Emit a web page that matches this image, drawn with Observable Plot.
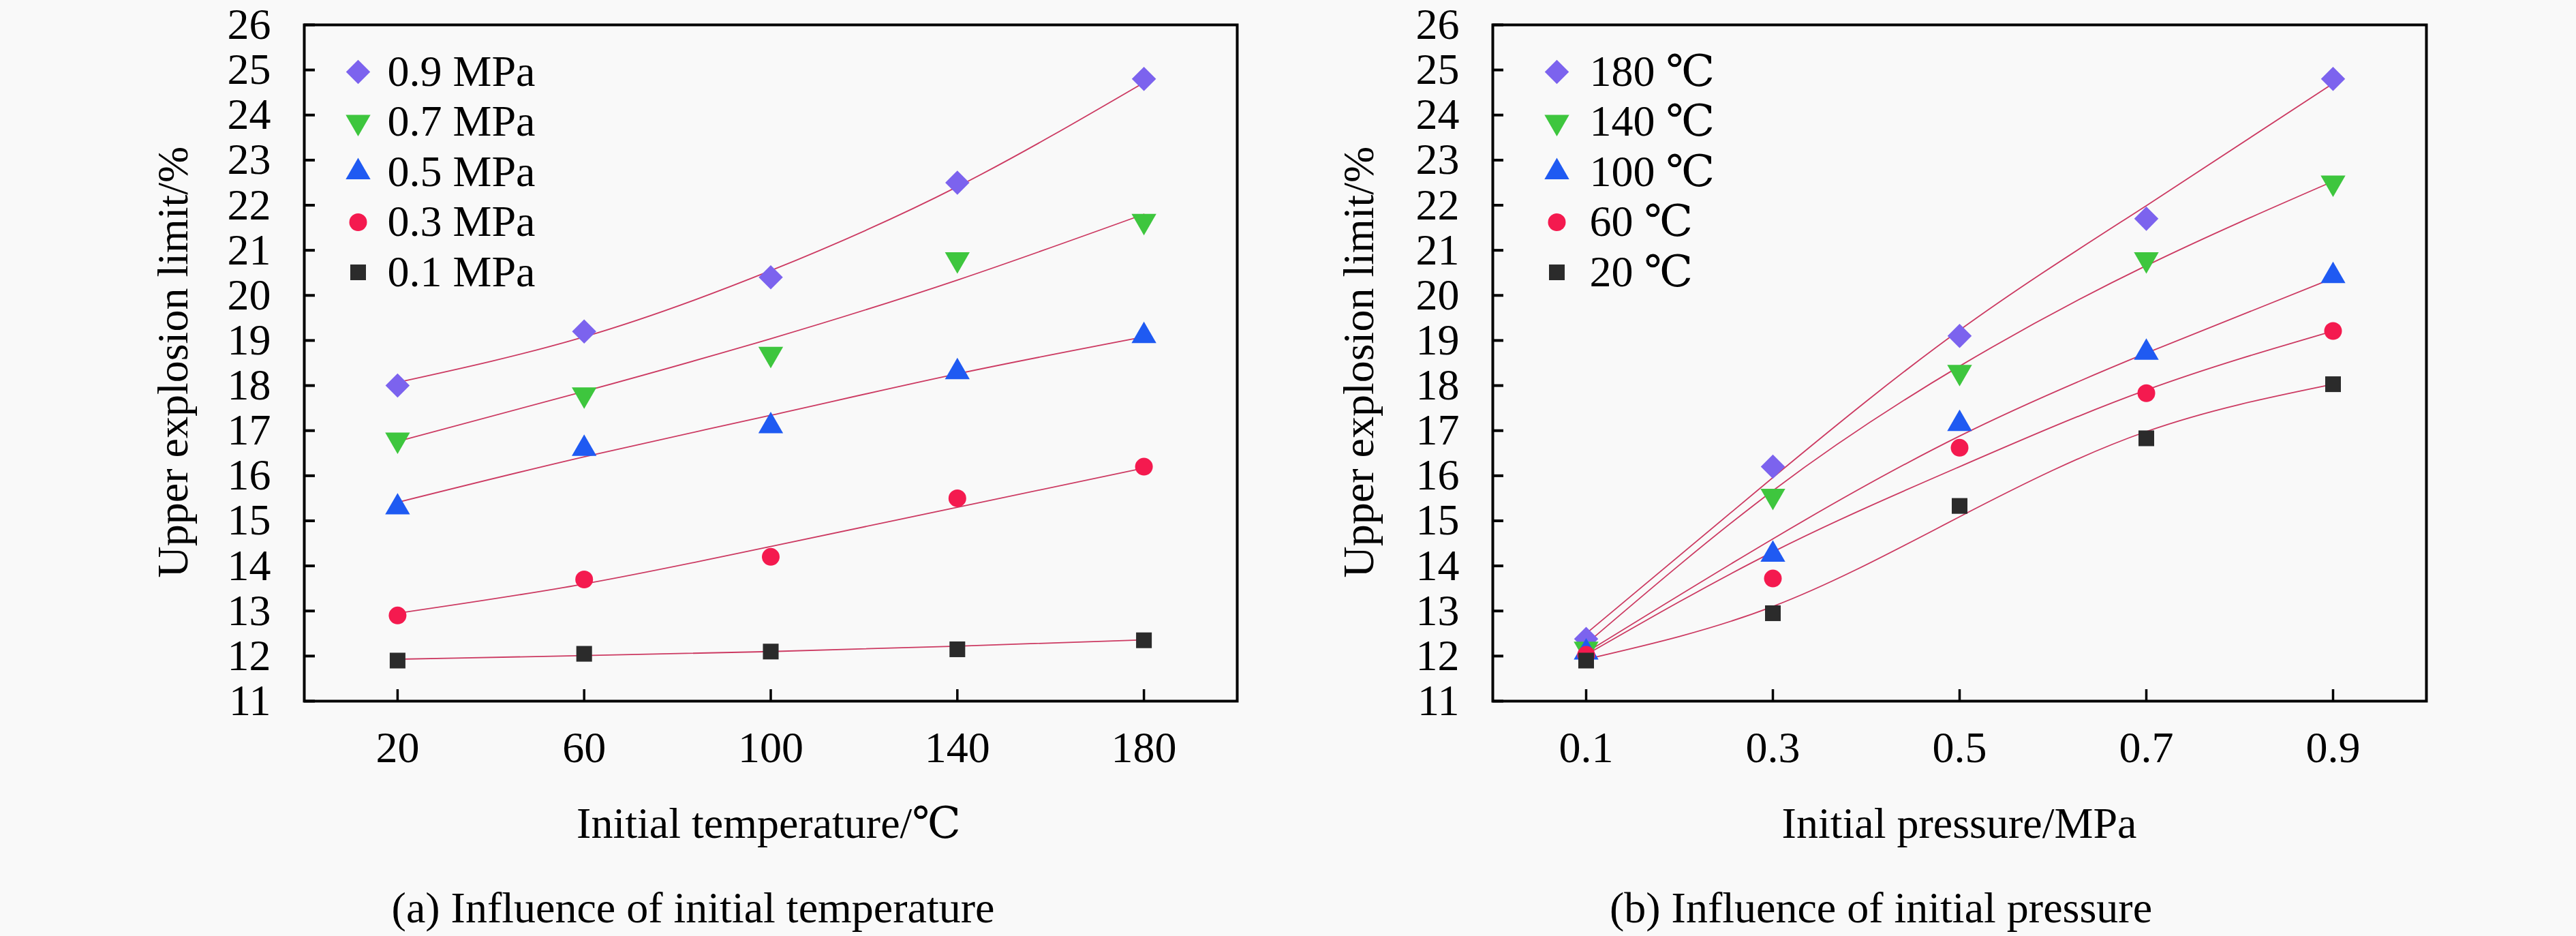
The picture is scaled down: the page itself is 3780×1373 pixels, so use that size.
<!DOCTYPE html>
<html>
<head>
<meta charset="utf-8">
<script src="https://cdn.jsdelivr.net/npm/d3@7"></script>
<script src="https://cdn.jsdelivr.net/npm/@observablehq/plot@0.6"></script>
<style>
html, body { margin: 0; padding: 0; background: #f9f9f9; }
#fig { position: relative; width: 3780px; height: 1373px; background: #f9f9f9; overflow: hidden;
  font-family: "Liberation Serif", "DejaVu Serif", "Noto Serif CJK SC", serif; color: #000; }
.panel { position: absolute; top: 0; }
.lbl { position: absolute; font-size: 64px; line-height: 1; white-space: nowrap; }
</style>
</head>
<body>
<div id="fig"></div>
<script>
// ---------- data ----------
const temperatures = [20, 60, 100, 140, 180];          // °C (panel a x)
const pressures = [0.1, 0.3, 0.5, 0.7, 0.9];            // MPa (panel b x)
const yTicks = [11, 12, 13, 14, 15, 16, 17, 18, 19, 20, 21, 22, 23, 24, 25, 26];

const pressureNames = ["0.9 MPa", "0.7 MPa", "0.5 MPa", "0.3 MPa", "0.1 MPa"];
const temperatureNames = ["180 ℃", "140 ℃", "100 ℃", "60 ℃", "20 ℃"];

// panel (a): measured upper explosion limit vs temperature
const uelA_09 = [18.0, 19.2, 20.4, 22.5, 24.8];
const uelA_07 = [16.8, 17.8, 18.7, 20.8, 21.65];
const uelA_05 = [15.3, 16.6, 17.1, 18.3, 19.1];
const uelA_03 = [12.9, 13.7, 14.2, 15.5, 16.2];
const uelA_01 = [11.9, 12.05, 12.1, 12.15, 12.35];
// panel (a): fitted curves read at the same temperatures
const fitA_09 = [18.07, 19.08, 20.55, 22.41, 24.72];
const fitA_07 = [16.76, 17.87, 19.04, 20.34, 21.8];
const fitA_05 = [15.41, 16.42, 17.34, 18.26, 19.08];
const fitA_03 = [12.95, 13.6, 14.43, 15.3, 16.17];
const fitA_01 = [11.93, 12.01, 12.1, 12.22, 12.36];

// panel (b): measured upper explosion limit vs pressure
const uelB_180 = [12.38, 16.2, 19.1, 21.7, 24.8];
const uelB_140 = [12.16, 15.55, 18.3, 20.8, 22.5];
const uelB_100 = [12.08, 14.25, 17.15, 18.73, 20.43];
const uelB_60 = [12.03, 13.72, 16.62, 17.83, 19.21];
const uelB_20 = [11.9, 12.95, 15.33, 16.83, 18.03];
// panel (b): fitted curves read at the same pressures
const fitB_180 = [12.5, 15.96, 19.23, 21.99, 24.7];
const fitB_140 = [12.27, 15.67, 18.43, 20.66, 22.53];
const fitB_100 = [12.08, 14.6, 16.88, 18.72, 20.38];
const fitB_60 = [12.03, 14.31, 16.2, 17.9, 19.21];
const fitB_20 = [11.93, 13.1, 15.09, 16.98, 18.03];

// ---------- styles ----------
const FONT = '"Liberation Serif", "DejaVu Serif", "Noto Serif CJK SC", serif';
const lineColor = "#cc3a62";
const symbolDown = {
  draw(ctx, size) {
    const s3 = Math.sqrt(3);
    const y = -Math.sqrt(size / (3 * s3));
    ctx.moveTo(0, -2 * y);
    ctx.lineTo(s3 * y, y);
    ctx.lineTo(-s3 * y, y);
    ctx.closePath();
  }
};
const seriesSymbols = ["diamond2", symbolDown, "triangle", "circle", "square"];
const seriesColors = ["#7c63ee", "#3ec63e", "#1f5af2", "#f41a4f", "#2b2b2b"];
const seriesR = [16, 13.5, 13.5, 13, 13];

function panel({xs, names, measured, fitted, xDomain, xTickFormat, marginLeft, marginRight, legendDx, legendTextDx}) {
  const marks = [];
  fitted.forEach((vals) => {
    const rows = xs.map((x, j) => ({x, y: vals[j]}));
    marks.push(Plot.line(rows, {x: "x", y: "y", curve: "natural", stroke: lineColor, strokeWidth: 1.8}));
  });
  measured.forEach((vals, i) => {
    const rows = xs.map((x, j) => ({x, y: vals[j]}));
    marks.push(Plot.dot(rows, {x: "x", y: "y", symbol: seriesSymbols[i], fill: seriesColors[i], r: seriesR[i], stroke: "none"}));
  });
  names.forEach((name, i) => {
    const dy = 69 + 73.5 * i;
    marks.push(Plot.dot([name], {x: null, y: null, frameAnchor: "top-left", dx: legendDx, dy,
      symbol: seriesSymbols[i], fill: seriesColors[i], r: seriesR[i], stroke: "none"}));
    marks.push(Plot.text([name], {x: null, y: null, frameAnchor: "top-left", dx: legendTextDx, dy,
      text: d => d, textAnchor: "start", lineAnchor: "middle", fontSize: 64, fill: "#000"}));
  });
  marks.push(Plot.axisY(yTicks, {anchor: "left", tickSize: 0, tickPadding: 49, fontSize: 64, tickFormat: d => String(d), label: null}));
  marks.push(Plot.axisY(yTicks, {anchor: "left", tickSize: 16, dx: 16, text: null, strokeWidth: 4, label: null}));
  marks.push(Plot.axisX(xs, {anchor: "bottom", tickSize: 17, dy: -17, text: null, strokeWidth: 3.5, label: null}));
  marks.push(Plot.axisX(xs, {anchor: "bottom", tickSize: 0, tickPadding: 44, fontSize: 64, tickFormat: xTickFormat, label: null}));
  marks.push(Plot.frame({stroke: "#000", strokeWidth: 4}));
  return Plot.plot({
    width: 1890, height: 1373,
    marginLeft, marginRight, marginTop: 36, marginBottom: 345,
    x: {domain: xDomain},
    y: {domain: [11, 26]},
    style: {fontFamily: FONT, fontSize: "64px", background: "transparent", color: "#000", overflow: "visible"},
    marks
  });
}

const fig = document.getElementById("fig");

const a = panel({
  xs: temperatures, names: pressureNames,
  measured: [uelA_09, uelA_07, uelA_05, uelA_03, uelA_01],
  fitted: [fitA_09, fitA_07, fitA_05, fitA_03, fitA_01],
  xDomain: [0, 200], xTickFormat: d => String(d),
  marginLeft: 446, marginRight: 75, legendDx: 79, legendTextDx: 122
});
a.classList.add("panel"); a.style.left = "0px";
fig.appendChild(a);

const b = panel({
  xs: pressures, names: temperatureNames,
  measured: [uelB_180, uelB_140, uelB_100, uelB_60, uelB_20],
  fitted: [fitB_180, fitB_140, fitB_100, fitB_60, fitB_20],
  xDomain: [0, 1], xTickFormat: d3.format(".1f"),
  marginLeft: 300, marginRight: 220, legendDx: 94, legendTextDx: 142
});
b.classList.add("panel"); b.style.left = "1890px";
fig.appendChild(b);

function label(text, left, top, transform) {
  const d = document.createElement("div");
  d.className = "lbl";
  d.textContent = text;
  d.style.left = left + "px";
  d.style.top = top + "px";
  d.style.transform = transform;
  fig.appendChild(d);
}
label("Upper explosion limit/%", 254, 531, "translate(-50%, -50%) rotate(-90deg)");
label("Upper explosion limit/%", 1994, 531, "translate(-50%, -50%) rotate(-90deg)");
label("Initial temperature/℃", 1128, 1176, "translate(-50%, 0)");
label("Initial pressure/MPa", 2875, 1176, "translate(-50%, 0)");
label("(a) Influence of initial temperature", 1017, 1300, "translate(-50%, 0)");
label("(b) Influence of initial pressure", 2760, 1300, "translate(-50%, 0)");
</script>
</body>
</html>
